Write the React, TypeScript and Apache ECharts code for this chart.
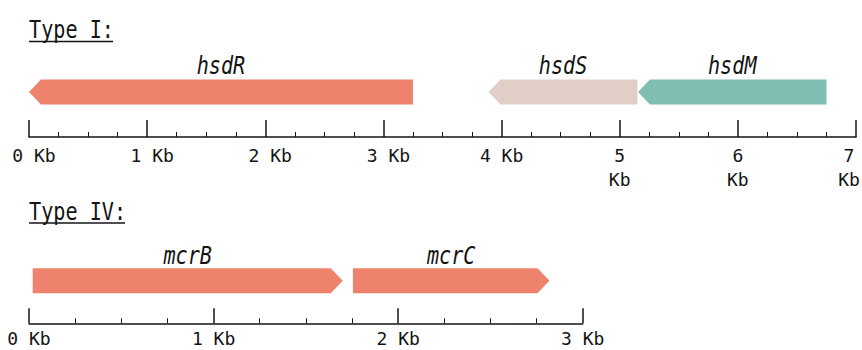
import React, { useEffect, useRef } from "react";
import * as echarts from "echarts";

// ---- data ----
const typeIGenes = ["hsdR", "hsdS", "hsdM"];
const typeIStart = [0.0, 3.89, 5.155];
const typeIEnd = [3.25, 5.15, 6.75];
const typeIStrand = [-1, -1, -1];

const typeIVGenes = ["mcrB", "mcrC"];
const typeIVStart = [0.02, 1.755];
const typeIVEnd = [1.7, 2.82];
const typeIVStrand = [1, 1];

const typeITicks = [0, 1, 2, 3, 4, 5, 6, 7];
const typeIVTicks = [0, 1, 2, 3];
const twoLineTicks = [5, 6, 7];

const titles = ["Type I:", "Type IV:"];

// ---- styles ----
const geneColors: Record<string, string> = {
  hsdR: "#EE826C",
  hsdS: "#E1CEC6",
  hsdM: "#80BDB2",
  mcrB: "#EE826C",
  mcrC: "#EE826C",
};
const MONO = '"DejaVu Sans Mono", "Liberation Mono", monospace';
const INK = "#141414";
const TRACK = 0.5;
const NARROW = 0.84;

function makeRender(names: string[], labelGap: number) {
  return (params: any, api: any) => {
    const start = api.value(0);
    const end = api.value(1);
    const strand = api.value(2);
    const track = api.value(3);
    const p0 = api.coord([start, track]);
    const p1 = api.coord([end, track]);
    const h = 25;
    const head = 12;
    const x0 = p0[0];
    const x1 = p1[0];
    const y = p0[1];
    const t = y - h / 2;
    const b = y + h / 2;
    const points =
      strand < 0
        ? [[x0, y], [x0 + head, t], [x1, t], [x1, b], [x0 + head, b]]
        : [[x0, t], [x1 - head, t], [x1, y], [x1 - head, b], [x0, b]];
    const name = names[params.dataIndex];
    return {
      type: "group",
      children: [
        {
          type: "polygon",
          shape: { points },
          style: { fill: geneColors[name], stroke: null },
        },
        {
          type: "text",
          x: (x0 + x1) / 2,
          y: t - labelGap,
          scaleX: NARROW,
          style: {
            text: name,
            x: 0,
            y: 0,
            align: "center",
            verticalAlign: "middle",
            fontFamily: MONO,
            fontStyle: "italic",
            fontSize: 24,
            fill: INK,
          },
        },
      ],
    };
  };
}

function axisCfg(gridIndex: number, max: number, tickLen: number, top: boolean) {
  const lh = top ? 24 : 16;
  return {
    gridIndex,
    type: "value",
    min: 0,
    max,
    interval: 1,
    position: "bottom",
    axisLine: { show: true, onZero: false, lineStyle: { color: INK, width: 1.5 } },
    axisTick: { show: true, inside: true, length: tickLen, lineStyle: { color: INK, width: 1.5 } },
    minorTick: { show: true, splitNumber: 4, length: 5, lineStyle: { color: INK, width: 1 } },
    splitLine: { show: false },
    minorSplitLine: { show: false },
    axisLabel: {
      show: true,
      margin: top ? 6 : 7,
      color: INK,
      fontFamily: MONO,
      fontSize: 18,
      lineHeight: lh,
      showMinLabel: true,
      showMaxLabel: true,
      hideOverlap: false,
      formatter: (v: number) => {
        if (top && twoLineTicks.includes(v)) {
          const k = v === max ? "r" : "c";
          return `{${k}|${v}}\n{${k}|Kb}`;
        }
        return top && v !== 4 ? `{o|${v} Kb}` : `{c|${v} Kb}`;
      },
      rich: {
        o: { fontFamily: MONO, fontSize: 18, color: INK, padding: [0, 0, 0, 10], lineHeight: lh },
        c: { fontFamily: MONO, fontSize: 18, color: INK, lineHeight: lh },
        r: { fontFamily: MONO, fontSize: 18, color: INK, padding: [0, 14, 0, 0], lineHeight: lh },
      },
    },
  };
}

function titleText(i: number, y: number) {
  return {
    type: "text",
    x: 29,
    y,
    scaleX: NARROW,
    style: {
      text: titles[i],
      x: 0,
      y: 0,
      align: "left",
      verticalAlign: "middle",
      fontFamily: MONO,
      fontSize: 24,
      fill: INK,
    },
  };
}

export default function App() {
  const ref = useRef<HTMLDivElement>(null);
  useEffect(() => {
    if (!ref.current) return;
    const chart = echarts.init(ref.current, undefined, { renderer: "svg", width: 862, height: 350 });
    const dataI = typeIGenes.map((_, i) => [typeIStart[i], typeIEnd[i], typeIStrand[i], TRACK]);
    const dataIV = typeIVGenes.map((_, i) => [typeIVStart[i], typeIVEnd[i], typeIVStrand[i], TRACK]);
    chart.setOption({
      animation: false,
      backgroundColor: "#ffffff",
      grid: [
        { left: 29, width: 827, top: 47, bottom: 213, containLabel: false, outerBoundsMode: "none" },
        { left: 29, width: 553.7, top: 238.3, bottom: 26.7, containLabel: false, outerBoundsMode: "none" },
      ],
      xAxis: [
        axisCfg(0, typeITicks[typeITicks.length - 1], 17, true),
        axisCfg(1, typeIVTicks[typeIVTicks.length - 1], 15, false),
      ],
      yAxis: [
        { gridIndex: 0, type: "value", min: 0, max: 1, show: false },
        { gridIndex: 1, type: "value", min: 0, max: 1, show: false },
      ],
      series: [
        {
          type: "custom",
          xAxisIndex: 0,
          yAxisIndex: 0,
          renderItem: makeRender(typeIGenes, 14),
          data: dataI,
          clip: false,
        },
        {
          type: "custom",
          xAxisIndex: 1,
          yAxisIndex: 1,
          renderItem: makeRender(typeIVGenes, 13),
          data: dataIV,
          clip: false,
        },
      ],
      graphic: [
        titleText(0, 29.5),
        {
          type: "line",
          shape: { x1: 29, y1: 41.5, x2: 113, y2: 41.5 },
          style: { stroke: INK, lineWidth: 1.5 },
        },
        titleText(1, 211.5),
        {
          type: "line",
          shape: { x1: 29, y1: 223, x2: 125, y2: 223 },
          style: { stroke: INK, lineWidth: 1.5 },
        },
      ],
    });
    return () => chart.dispose();
  }, []);
  return <div ref={ref} style={{ position: "fixed", left: 0, top: 0, width: 862, height: 350 }} />;
}
